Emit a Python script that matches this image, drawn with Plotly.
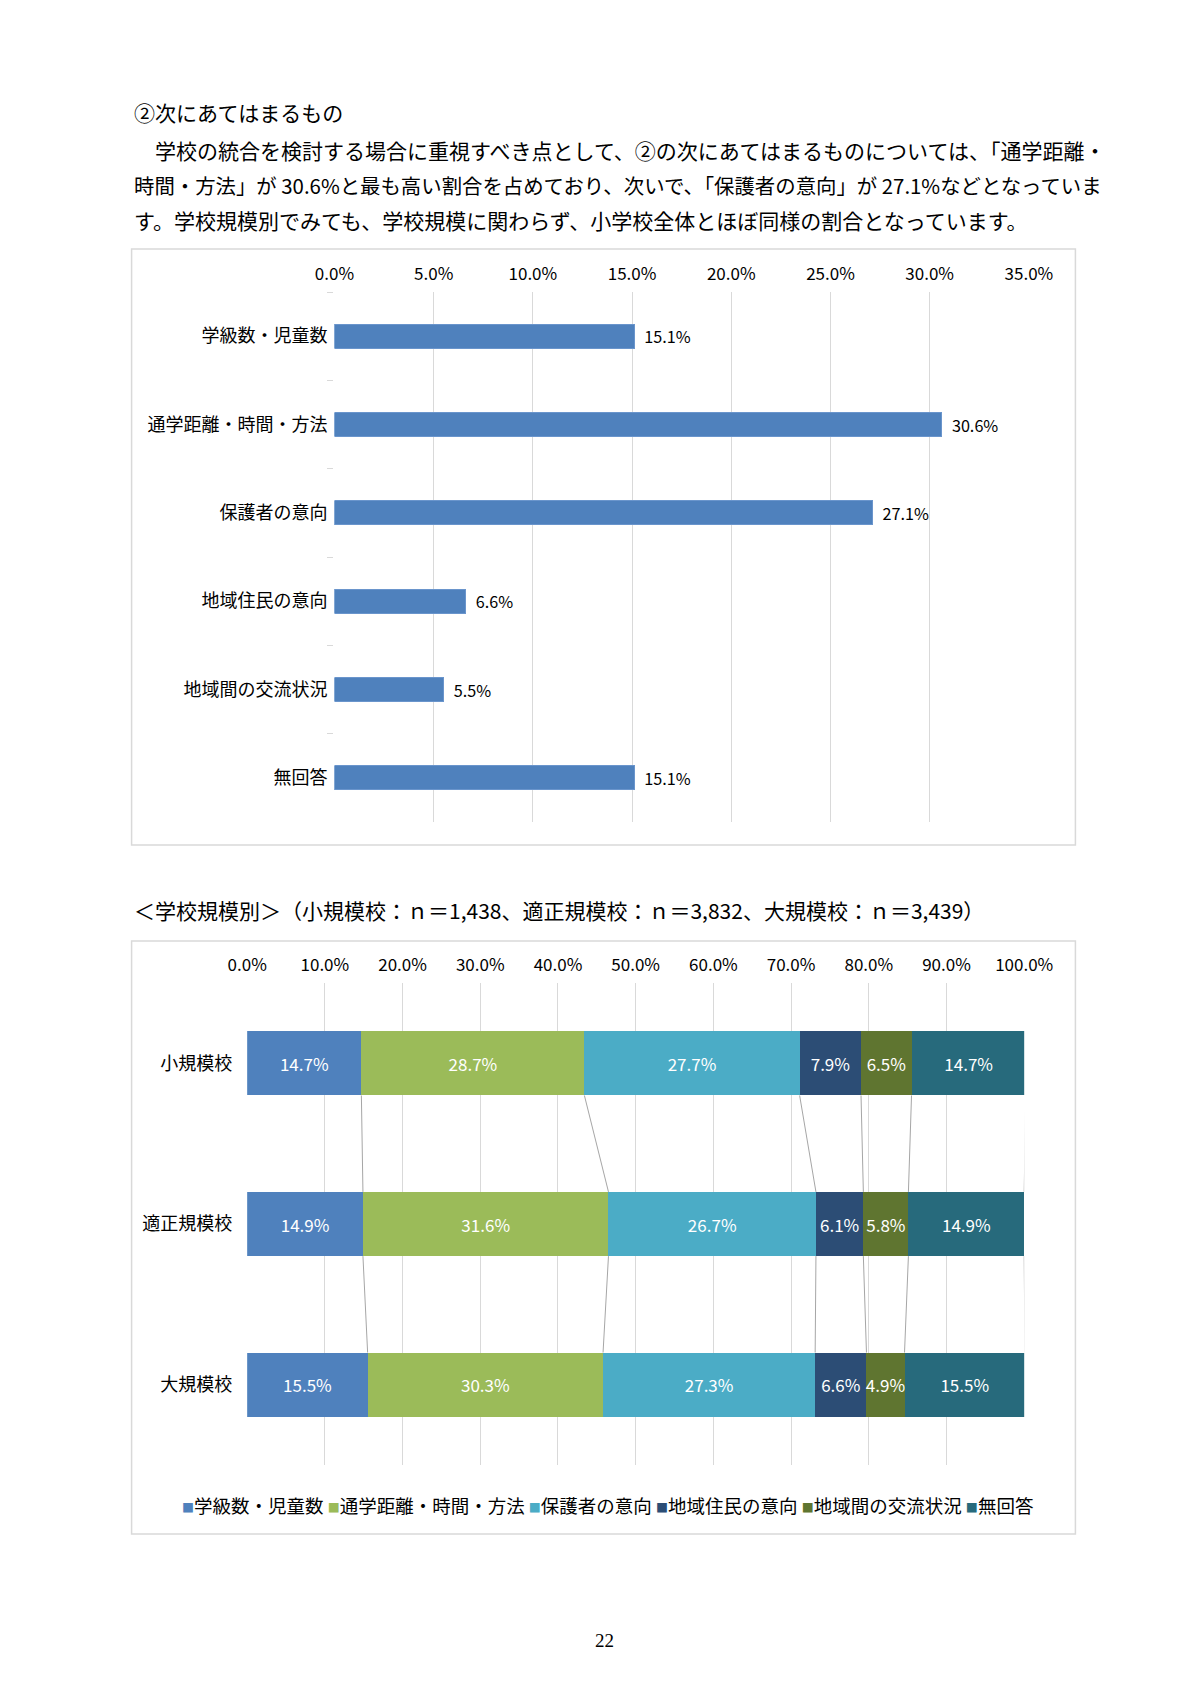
import plotly.graph_objects as go

W, H = 1200, 1698

# ---------------- text ----------------
heading = "②次にあてはまるもの"
para_lines = [
    "　学校の統合を検討する場合に重視すべき点として、②の次にあてはまるものについては、「通学距離・",
    "時間・方法」が 30.6%と最も高い割合を占めており、次いで、「保護者の意向」が 27.1%などとなっていま",
    "す。学校規模別でみても、学校規模に関わらず、小学校全体とほぼ同様の割合となっています。",
]
sub_heading = "＜学校規模別＞（小規模校：ｎ＝1,438、適正規模校：ｎ＝3,832、大規模校：ｎ＝3,439）"
page_number = "22"

# ---------------- data ----------------
overall_categories = ["学級数・児童数", "通学距離・時間・方法", "保護者の意向",
                      "地域住民の意向", "地域間の交流状況", "無回答"]
overall_values = [15.1, 30.6, 27.1, 6.6, 5.5, 15.1]

size_groups = ["小規模校", "適正規模校", "大規模校"]
series_names = ["学級数・児童数", "通学距離・時間・方法", "保護者の意向",
                "地域住民の意向", "地域間の交流状況", "無回答"]
series_colors = ["#4f81bd", "#9bbb59", "#4bacc6", "#2c4d75", "#5f7530", "#276a7c"]
s_class = [14.7, 14.9, 15.5]
s_commute = [28.7, 31.6, 30.3]
s_parents = [27.7, 26.7, 27.3]
s_residents = [7.9, 6.1, 6.6]
s_exchange = [6.5, 5.8, 4.9]
s_noanswer = [14.7, 14.9, 15.5]
series_values = [s_class, s_commute, s_parents, s_residents, s_exchange, s_noanswer]

top_ticks = [0, 5, 10, 15, 20, 25, 30, 35]
top_tick_labels = ["0.0%", "5.0%", "10.0%", "15.0%", "20.0%", "25.0%", "30.0%", "35.0%"]
bottom_ticks = [0, 10, 20, 30, 40, 50, 60, 70, 80, 90, 100]
bottom_tick_labels = ["0.0%", "10.0%", "20.0%", "30.0%", "40.0%", "50.0%",
                      "60.0%", "70.0%", "80.0%", "90.0%", "100.0%"]

# ---------------- helpers ----------------
def px(x):
    return x / W

def py(y):
    return 1 - y / H

JP = "Noto Sans CJK JP, sans-serif"
NUM = "Noto Sans CJK JP, sans-serif"
GRID = "#d9d9d9"

fig = go.Figure()

# top chart
fig.add_trace(go.Bar(
    y=overall_categories, x=overall_values, orientation="h", width=0.27,
    marker=dict(color="#4f81bd", line=dict(color="#6a95cc", width=1)),
    texttemplate="\u00a0\u00a0%{x:.1f}%", textposition="outside",
    textfont=dict(family=NUM, size=17, color="#000"), cliponaxis=False,
    xaxis="x", yaxis="y", showlegend=False, hoverinfo="skip",
))

# bottom chart (stacked)
ypos = list(range(len(size_groups)))
for name, color, vals in zip(series_names, series_colors, series_values):
    fig.add_trace(go.Bar(
        y=ypos, x=vals, orientation="h", width=0.4, name=name,
        marker=dict(color=color, line=dict(width=0)),
        texttemplate="%{x:.1f}%", textposition="inside", insidetextanchor="middle",
        textangle=0, constraintext="none",
        textfont=dict(family=NUM, size=17, color="#ffffff"),
        xaxis="x2", yaxis="y2", showlegend=False, hoverinfo="skip",
    ))

# series connector lines
cum_rows = []
for i in range(len(size_groups)):
    c, run = [], 0.0
    for vals in series_values:
        run += vals[i]
        c.append(run)
    cum_rows.append(c)
lx, ly = [], []
half = 0.2
for k in range(len(series_values)):
    for i in range(len(size_groups) - 1):
        lx += [cum_rows[i][k], cum_rows[i + 1][k], None]
        ly += [i + half, i + 1 - half, None]
fig.add_trace(go.Scatter(x=lx, y=ly, mode="lines", line=dict(color="#a6a6a6", width=1),
                         xaxis="x2", yaxis="y2", showlegend=False, hoverinfo="skip",
                         cliponaxis=False))

# ---------------- layout ----------------
shapes = [
    dict(type="rect", xref="paper", yref="paper", x0=px(108), x1=px(1092), y0=py(241), y1=py(837),
         line=dict(color=GRID, width=1.5), fillcolor="rgba(0,0,0,0)", layer="below"),
    dict(type="rect", xref="paper", yref="paper", x0=px(108), x1=px(1092), y0=py(933), y1=py(1526),
         line=dict(color=GRID, width=1.5), fillcolor="rgba(0,0,0,0)", layer="below"),
]

annotations = [
    dict(text=heading, x=px(108), y=py(104), xref="paper", yref="paper", xanchor="left",
         yanchor="middle", showarrow=False, font=dict(family=JP, size=21, color="#000")),
    dict(text=sub_heading, x=px(108), y=py(902), xref="paper", yref="paper", xanchor="left",
         yanchor="middle", showarrow=False, font=dict(family=JP, size=21, color="#000")),
    dict(text=page_number, x=px(601), y=py(1632), xref="paper", yref="paper", xanchor="center",
         yanchor="middle", showarrow=False, font=dict(family="Liberation Serif, serif", size=19, color="#000")),
]
for i, (line, yy) in enumerate(zip(para_lines, [142, 177, 212])):
    annotations.append(dict(text=line, x=px(108), y=py(yy), xref="paper", yref="paper",
                            xanchor="left", yanchor="middle", showarrow=False,
                            font=dict(family=JP, size=21 if i != 1 else 20.4, color="#000")))

legend_text = " ".join(
    f"<span style='color:{c};font-size:12px'>■</span>{n}" for n, c in zip(series_names, series_colors)
)
annotations.append(dict(text=legend_text, x=px(604), y=py(1497), xref="paper", yref="paper",
                        xanchor="center", yanchor="middle", showarrow=False,
                        font=dict(family=JP, size=18.5, color="#000")))

fig.update_layout(
    width=W, height=H, margin=dict(l=0, r=0, t=0, b=0),
    paper_bgcolor="white", plot_bgcolor="white", barmode="stack", showlegend=False,
    shapes=shapes, annotations=annotations,
    xaxis=dict(domain=[px(319.5), px(1043.5)], anchor="y", range=[0, 35], side="top",
               tickmode="array", tickvals=top_ticks, ticktext=top_tick_labels, showgrid=True,
               gridcolor=GRID, gridwidth=1, zeroline=False, showline=False, ticks="",
               ticklabelstandoff=8, tickfont=dict(family=NUM, size=17, color="#000"),
               fixedrange=True),
    yaxis=dict(domain=[py(814), py(284)], anchor="x", type="category",
               categoryorder="array", categoryarray=overall_categories, autorange="reversed",
               ticks="outside", tickson="boundaries", ticklen=6, tickcolor=GRID,
               showgrid=False, zeroline=False, showline=False, ticklabelstandoff=6,
               tickfont=dict(family=JP, size=18, color="#000"), fixedrange=True),
    xaxis2=dict(domain=[px(228.5), px(1038.6)], anchor="y2", range=[0, 100], side="top",
                tickmode="array", tickvals=bottom_ticks, ticktext=bottom_tick_labels, showgrid=True,
                gridcolor=GRID, gridwidth=1, zeroline=False, showline=False, ticks="",
                ticklabelstandoff=8, tickfont=dict(family=NUM, size=17, color="#000"),
                fixedrange=True),
    yaxis2=dict(domain=[py(1457), py(975)], anchor="x2", range=[2.5, -0.5],
                tickvals=ypos, ticktext=size_groups, ticks="", showgrid=False,
                zeroline=False, showline=False, ticklabelstandoff=14,
                tickfont=dict(family=JP, size=18, color="#000"), fixedrange=True),
)

fig.write_html("out.html")
